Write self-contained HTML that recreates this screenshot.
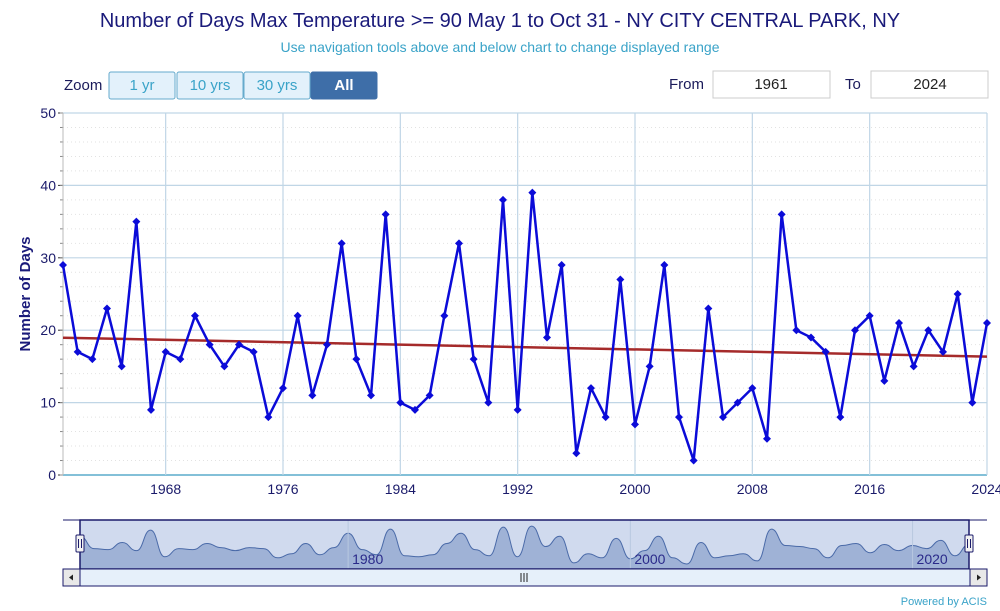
<!DOCTYPE html>
<html><head><meta charset="utf-8"><style>
body{margin:0;width:1000px;height:611px;background:#fff;font-family:"Liberation Sans","DejaVu Sans",sans-serif;overflow:hidden}
svg{position:absolute;left:0;top:0}
</style></head><body>
<svg id="c" width="1000" height="611"></svg>
<script>
const years=[1961,1962,1963,1964,1965,1966,1967,1968,1969,1970,1971,1972,1973,1974,1975,1976,1977,1978,1979,1980,1981,1982,1983,1984,1985,1986,1987,1988,1989,1990,1991,1992,1993,1994,1995,1996,1997,1998,1999,2000,2001,2002,2003,2004,2005,2006,2007,2008,2009,2010,2011,2012,2013,2014,2015,2016,2017,2018,2019,2020,2021,2022,2023,2024];
const days=[29,17,16,23,15,35,9,17,16,22,18,15,18,17,8,12,22,11,18,32,16,11,36,10,9,11,22,32,16,10,38,9,39,19,29,3,12,8,27,7,15,29,8,2,23,8,10,12,5,36,20,19,17,8,20,22,13,21,15,20,17,25,10,21];
const xTicks=[1968,1976,1984,1992,2000,2008,2016,2024];
const yTicks=[0,10,20,30,40,50];
const navTicks=[1980,2000,2020];

const NS="http://www.w3.org/2000/svg";
const svg=document.getElementById('c');
function el(t,a,p){const e=document.createElementNS(NS,t);for(const k in a)e.setAttribute(k,a[k]);(p||svg).appendChild(e);return e;}
const X0=63,X1=987,Y0=475,Y1=113;
const x=v=>X0+(v-1961)/(2024-1961)*(X1-X0);
const y=v=>Y0-v/50*(Y0-Y1);

let t=el('text',{x:500,y:27,'text-anchor':'middle','font-size':20,fill:'#1a1a7a'});t.textContent='Number of Days Max Temperature >= 90 May 1 to Oct 31 - NY CITY CENTRAL PARK, NY';

t=el('text',{x:500,y:52,'text-anchor':'middle','font-size':14,fill:'#3aa3c8'});t.textContent='Use navigation tools above and below chart to change displayed range';


t=el('text',{x:64,y:90,'font-size':15,fill:'#1a1a5a'});t.textContent='Zoom';

const btns=[['1 yr',109,66],['10 yrs',177,66],['30 yrs',244,66],['All',311,66]];
btns.forEach((b,i)=>{const g=el('g',{});

const all=i==3;
el('rect',{x:b[1],y:72,width:b[2],height:27,rx:2,fill:all?'#3e6ea8':'#e3f1fb',stroke:all?'#3e6ea8':'#66aacc'},g);
const tt=el('text',{x:b[1]+b[2]/2,y:90,'text-anchor':'middle','font-size':15,fill:all?'#fff':'#3aa3c8','font-weight':all?'bold':'normal'},g);tt.textContent=b[0];});
t=el('text',{x:669,y:89,'font-size':15,fill:'#1a1a5a'});t.textContent='From';

let g=el('g',{});
el('rect',{x:713,y:71,width:117,height:27,fill:'#fff',stroke:'#ccc'},g);
t=el('text',{x:771,y:89,'text-anchor':'middle','font-size':15,fill:'#222'},g);t.textContent='1961';
t=el('text',{x:845,y:89,'font-size':15,fill:'#1a1a5a'});t.textContent='To';

g=el('g',{});
el('rect',{x:871,y:71,width:117,height:27,fill:'#fff',stroke:'#ccc'},g);
t=el('text',{x:930,y:89,'text-anchor':'middle','font-size':15,fill:'#222'},g);t.textContent='2024';

for(let v=0;v<=50;v+=2){if(v%10)el('line',{x1:X0,x2:X1,y1:y(v),y2:y(v),stroke:'#e2e2e2','stroke-dasharray':'1,3'});}
yTicks.forEach(v=>{el('line',{x1:X0,x2:X1,y1:y(v),y2:y(v),stroke:v==0?'#5aaccc':'#c0d6e6','stroke-width':v==0?1.5:1.2});
el('line',{x1:X0-5,x2:X0,y1:y(v),y2:y(v),stroke:'#333'});
const tl=el('text',{x:X0-7,y:y(v)+5,'text-anchor':'end','font-size':14,fill:'#1a1a6a'});tl.textContent=v;
});
for(let v=0;v<=50;v+=2){el('line',{x1:X0-3,x2:X0,y1:y(v),y2:y(v),stroke:'#888'});}
xTicks.forEach(v=>{el('line',{x1:x(v),x2:x(v),y1:Y1,y2:Y0,stroke:'#c0d6e6','stroke-width':1.2});
const tl=el('text',{x:x(v),y:Y0+19,'text-anchor':'middle','font-size':14,fill:'#1a1a6a'});tl.textContent=v;
});
el('line',{x1:X0,x2:X0,y1:Y1,y2:Y0,stroke:'#bbb'});
t=el('text',{x:0,y:0,transform:'translate(30,294) rotate(-90)','text-anchor':'middle','font-size':15,'font-weight':'bold',fill:'#1a1a7a'});t.textContent='Number of Days';


const n=years.length;let mx=0,my=0;years.forEach((a,i)=>{mx+=a;my+=days[i];});mx/=n;my/=n;
let sxy=0,sxx=0;years.forEach((a,i)=>{sxy+=(a-mx)*(days[i]-my);sxx+=(a-mx)**2;});
const b=sxy/sxx,a0=my-b*mx;
t=el('line',{x1:x(1961),y1:y(a0+b*1961),x2:x(2024),y2:y(a0+b*2024),stroke:'#a52a2a','stroke-width':2.5});


const pts=years.map((v,i)=>x(v)+','+y(days[i])).join(' ');
t=el('polyline',{points:pts,fill:'none',stroke:'#0b0bd8','stroke-width':2.5,'stroke-linejoin':'round'});

years.forEach((v,i)=>{const cx=x(v),cy=y(days[i]);
const m=el('polygon',{points:`${cx},${cy-4} ${cx+4},${cy} ${cx},${cy+4} ${cx-4},${cy}`,fill:'#0b0bd8'});
});

const NT=520,NB=569,NX0=80,NX1=969;
g=el('g',{});
el('line',{x1:63,x2:987,y1:NT,y2:NT,stroke:'#1a1a6a'},g);
el('rect',{x:NX0,y:NT,width:NX1-NX0,height:NB-NT,fill:'#d0daee'},g);
const nx=v=>NX0+(v-1961)/(2024-1961)*(NX1-NX0);
const ny=v=>NB-3-v/42*(NB-NT-6);
let d='M'+nx(1961)+','+NB;
d+=' L'+nx(years[0])+','+ny(days[0]);
for(let i=1;i<n;i++){const xa=nx(years[i-1]),xb=nx(years[i]),xm=(xa+xb)/2;d+=` C${xm},${ny(days[i-1])} ${xm},${ny(days[i])} ${xb},${ny(days[i])}`;}
d+=' L'+nx(2024)+','+NB+'Z';
el('path',{d:d,fill:'#9fb2d6',stroke:'#4a6aa8','stroke-width':1},g);
navTicks.forEach(v=>{el('line',{x1:nx(v),x2:nx(v),y1:NT,y2:NB,stroke:'#b8c8e0'},g);
const tl=el('text',{x:nx(v)+4,y:NB-5,'font-size':14,fill:'#2a2a8a'},g);tl.textContent=v;});
el('rect',{x:NX0,y:NT,width:NX1-NX0,height:NB-NT,fill:'none',stroke:'#1a1a6a','stroke-width':1.5},g);
[NX0,NX1].forEach(hx=>{el('rect',{x:hx-4,y:535,width:8,height:17,fill:'#f2f2f2',stroke:'#1a1a6a',rx:1},g);
el('line',{x1:hx-1.5,x2:hx-1.5,y1:539,y2:548,stroke:'#1a1a6a'},g);el('line',{x1:hx+1.5,x2:hx+1.5,y1:539,y2:548,stroke:'#1a1a6a'},g);});
g=el('g',{});
el('rect',{x:63,y:569,width:924,height:17,fill:'#e6f0fa',stroke:'#1a1a6a'},g);
el('rect',{x:63,y:569,width:17,height:17,fill:'#e8e8e8',stroke:'#1a1a6a'},g);
el('rect',{x:970,y:569,width:17,height:17,fill:'#e8e8e8',stroke:'#1a1a6a'},g);
el('polygon',{points:'69,577.5 73,574.5 73,580.5',fill:'#222'},g);
el('polygon',{points:'981,577.5 977,574.5 977,580.5',fill:'#222'},g);
[521,524,527].forEach(lx=>el('line',{x1:lx,x2:lx,y1:573,y2:582,stroke:'#222'},g));
t=el('text',{x:987,y:605,'text-anchor':'end','font-size':11,fill:'#3aa3c8'});t.textContent='Powered by ACIS';

</script>
</body></html>
